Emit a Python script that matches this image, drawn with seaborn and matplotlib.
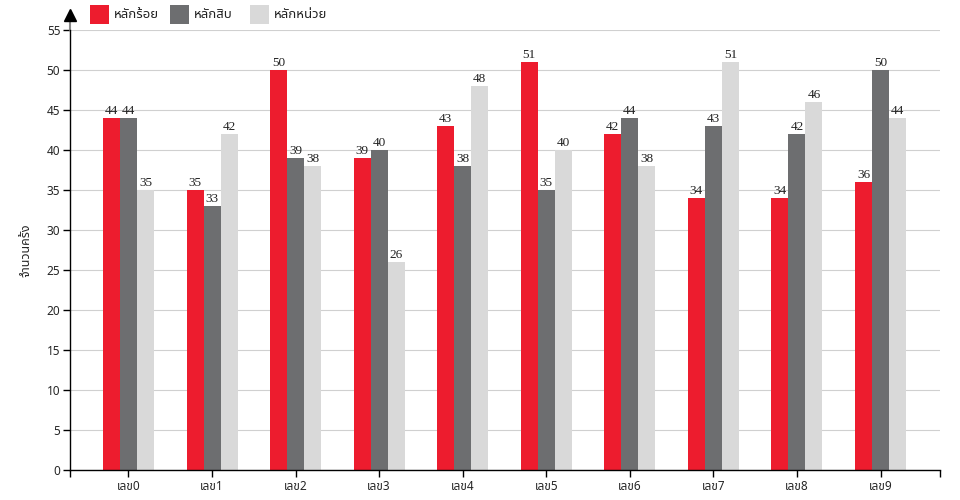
import matplotlib
matplotlib.use('Agg')
import matplotlib.pyplot as plt
from matplotlib.patches import Rectangle
import pandas as pd
import seaborn as sns

# data
digits = ['เลข0', 'เลข1', 'เลข2', 'เลข3', 'เลข4', 'เลข5', 'เลข6', 'เลข7', 'เลข8', 'เลข9']
places = ['หลักร้อย', 'หลักสิบ', 'หลักหน่วย']
hundreds = [44, 35, 50, 39, 43, 51, 42, 34, 34, 36]
tens = [44, 33, 39, 40, 38, 35, 44, 43, 42, 50]
units = [35, 42, 38, 26, 48, 40, 38, 51, 46, 44]
colors = ['#ED1C2E', '#6D6E70', '#D9D9D9']

data = pd.DataFrame({
    'digit': digits * 3,
    'place': [places[0]] * 10 + [places[1]] * 10 + [places[2]] * 10,
    'count': hundreds + tens + units,
})

sns.set_style('white')
plt.rcParams['font.family'] = ['Noto Sans Thai', 'DejaVu Sans']

W, H = 960, 500
fig = plt.figure(figsize=(9.6, 5), dpi=100)
ax = fig.add_axes([70 / W, 30 / H, 870 / W, 440 / H])

sns.barplot(data=data, x='digit', y='count', hue='place', palette=colors,
            width=0.61, saturation=1, linewidth=0, legend=False, ax=ax)

for cont in ax.containers:
    ax.bar_label(cont, padding=1, fontsize=9.5, color='#222222',
                 family=['Liberation Serif'])

x_lo, x_hi = -0.70, 9.712
ax.set_xlim(x_lo, x_hi)
ax.set_ylim(0, 55)
ax.set_yticks(range(0, 56, 5))
ax.yaxis.grid(True, color='#D0D0D0', linewidth=0.8)
ax.set_axisbelow(True)

for side in ['top', 'right']:
    ax.spines[side].set_visible(False)
for side in ['left', 'bottom']:
    ax.spines[side].set_color('black')
    ax.spines[side].set_linewidth(1)

ax.set_xticks(range(10), labels=digits)
ax.set_xticks([x_lo, x_hi], minor=True)
ax.tick_params(axis='x', which='both', direction='out', length=5, width=1,
               color='black', labelsize=8.5, pad=2, bottom=True)
ax.tick_params(axis='y', direction='out', length=5, width=1,
               color='black', labelsize=8.5, pad=2, left=True)

ax.set_xlabel('')
ax.set_ylabel('จำนวนครั้ง', fontsize=9)
ax.yaxis.set_label_coords(-38 / 870, 0.5)

# y axis continues past 55 and ends in an arrow head
ax.plot([0, 0], [1, 1 + 10 / 440], color='#888888', linewidth=1.5,
        transform=ax.transAxes, clip_on=False)
ax.plot([0], [1 + 15 / 440], marker='^', color='black', markersize=8,
        transform=ax.transAxes, clip_on=False)

# legend: fixed 80 px slots along the top
for i, (lab, c) in enumerate(zip(places, colors)):
    x0 = 90 + 80 * i
    fig.add_artist(Rectangle((x0 / W, 1 - 24 / H), 19 / W, 19 / H,
                             facecolor=c, edgecolor='none',
                             transform=fig.transFigure))
    fig.text((x0 + 24) / W, 1 - 14.5 / H, lab, fontsize=9.5,
             va='center', ha='left', color='#222222')

fig.savefig('out.png', dpi=100)
